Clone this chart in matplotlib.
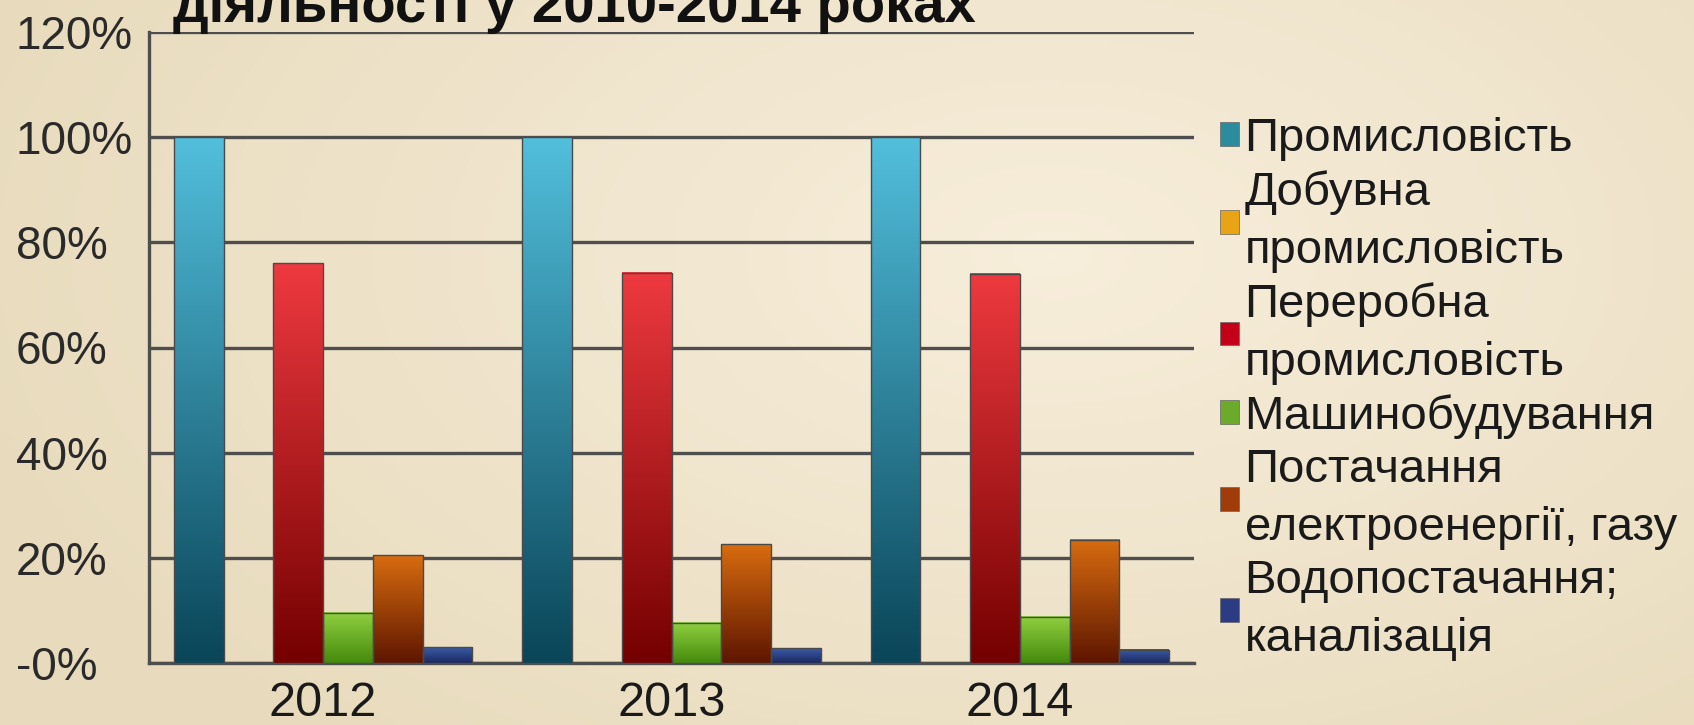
import numpy as np
import matplotlib
matplotlib.use('Agg')
import matplotlib.pyplot as plt
from matplotlib.colors import LinearSegmentedColormap
from matplotlib.patches import Patch

plt.rcParams['font.family'] = ['Liberation Sans', 'DejaVu Sans']

# data (percent of total industry)
years = ['2012', '2013', '2014']
series_names = ['Промисловість', 'Добувна\nпромисловість', 'Переробна\nпромисловість',
                'Машинобудування', 'Постачання\nелектроенергії, газу', 'Водопостачання;\nканалізація']
promyslovist = [100.0, 100.0, 100.0]
dobuvna = [0.0, 0.0, 0.0]
pererobna = [76.0, 74.2, 74.0]
mashynobud = [9.6, 7.7, 8.8]
postachannia = [20.5, 22.6, 23.4]
vodopostach = [3.0, 2.8, 2.5]
values = [promyslovist, dobuvna, pererobna, mashynobud, postachannia, vodopostach]
yticks = [0, 20, 40, 60, 80, 100, 120]
ytick_labels = ['-0%', '20%', '40%', '60%', '80%', '100%', '120%']

# bar gradients (bottom -> top) and legend swatch colours
grads = [('#0a4558', '#52bfdc'), ('#b07000', '#f5c040'), ('#740000', '#ee3a40'),
         ('#458a0c', '#90d040'), ('#5e1600', '#d86c10'), ('#1a2860', '#3c5ca8')]
swatch = ['#2a8c9c', '#e8a414', '#c40018', '#6caa2c', '#a03c0a', '#2c3c84']

W, H = 1694, 725
fig = plt.figure(figsize=(W / 100, H / 100), dpi=100)

# beige background
bg = fig.add_axes([0, 0, 1, 1], zorder=-10)
xx, yy = np.meshgrid(np.linspace(0, 1, 400), np.linspace(0, 1, 200))
d = np.sqrt(((xx - 0.62) * 1.2) ** 2 + ((yy - 0.35) * 0.9) ** 2)
bgcmap = LinearSegmentedColormap.from_list('bg', ['#f7eedb', '#e8dbbd'])
bg.imshow(d, cmap=bgcmap, aspect='auto', extent=[0, 1, 0, 1], vmin=0, vmax=0.8)
bg.axis('off')

ax = fig.add_axes([149 / W, 1 - 663 / H, (1194 - 149) / W, (663 - 32) / H])
ax.patch.set_alpha(0)

n = len(values)
group = 0.857
bw = group / n
x = np.arange(len(years))
grad = np.linspace(0, 1, 256).reshape(-1, 1)
for i, vals in enumerate(values):
    offs = x - group / 2 + bw * i
    cm = LinearSegmentedColormap.from_list('g%d' % i, list(grads[i]))
    bars = ax.bar(offs, vals, width=bw, align='edge', color='none',
                  edgecolor='#4a4a4a', linewidth=1.0, zorder=4)
    for b in bars:
        h = b.get_height()
        if h <= 0:
            continue
        ax.imshow(grad, cmap=cm, aspect='auto', origin='lower', zorder=3,
                  extent=[b.get_x(), b.get_x() + b.get_width(), 0, h])

ax.set_xlim(-0.5, len(years) - 0.5)
ax.set_ylim(0, 120)
ax.set_yticks(yticks)
ax.set_yticklabels(ytick_labels)
ax.set_xticks(x)
ax.set_xticklabels(years)
ax.tick_params(axis='y', length=0, pad=95.8, labelsize=33, labelcolor='#2a2a2a')
ax.tick_params(axis='x', length=0, pad=13, labelsize=35, labelcolor='#1a1a1a')
for lab in ax.get_yticklabels():
    lab.set_ha('left')
ax.grid(axis='y', color='#4e4e4e', linewidth=2.4, zorder=1)
ax.set_axisbelow(True)
for s in ['top', 'right']:
    ax.spines[s].set_visible(False)
for s in ['left', 'bottom']:
    ax.spines[s].set_color('#4e4e4e')
    ax.spines[s].set_linewidth(2.4)

# title (only bottom line visible, cut at top)
fig.text(173 / W, 1 - 22 / H, 'діяльності у 2010-2014 роках', fontsize=40.5,
         fontweight='bold', ha='left', va='baseline', color='#111111')

handles = [Patch(facecolor=c, edgecolor='#666666', linewidth=0.5) for c in swatch]
leg = fig.legend(handles, series_names, loc='upper left', bbox_to_anchor=(1220 / W, 1 - 117 / H),
                 frameon=False, fontsize=34, handlelength=0.4, handleheight=0.4,
                 handletextpad=0.12, labelspacing=0.2, borderaxespad=0, borderpad=0,
                 labelcolor='#1a1a1a')
for t in leg.get_texts():
    t.set_linespacing(1.4)

fig.savefig('out.png', dpi=100)
